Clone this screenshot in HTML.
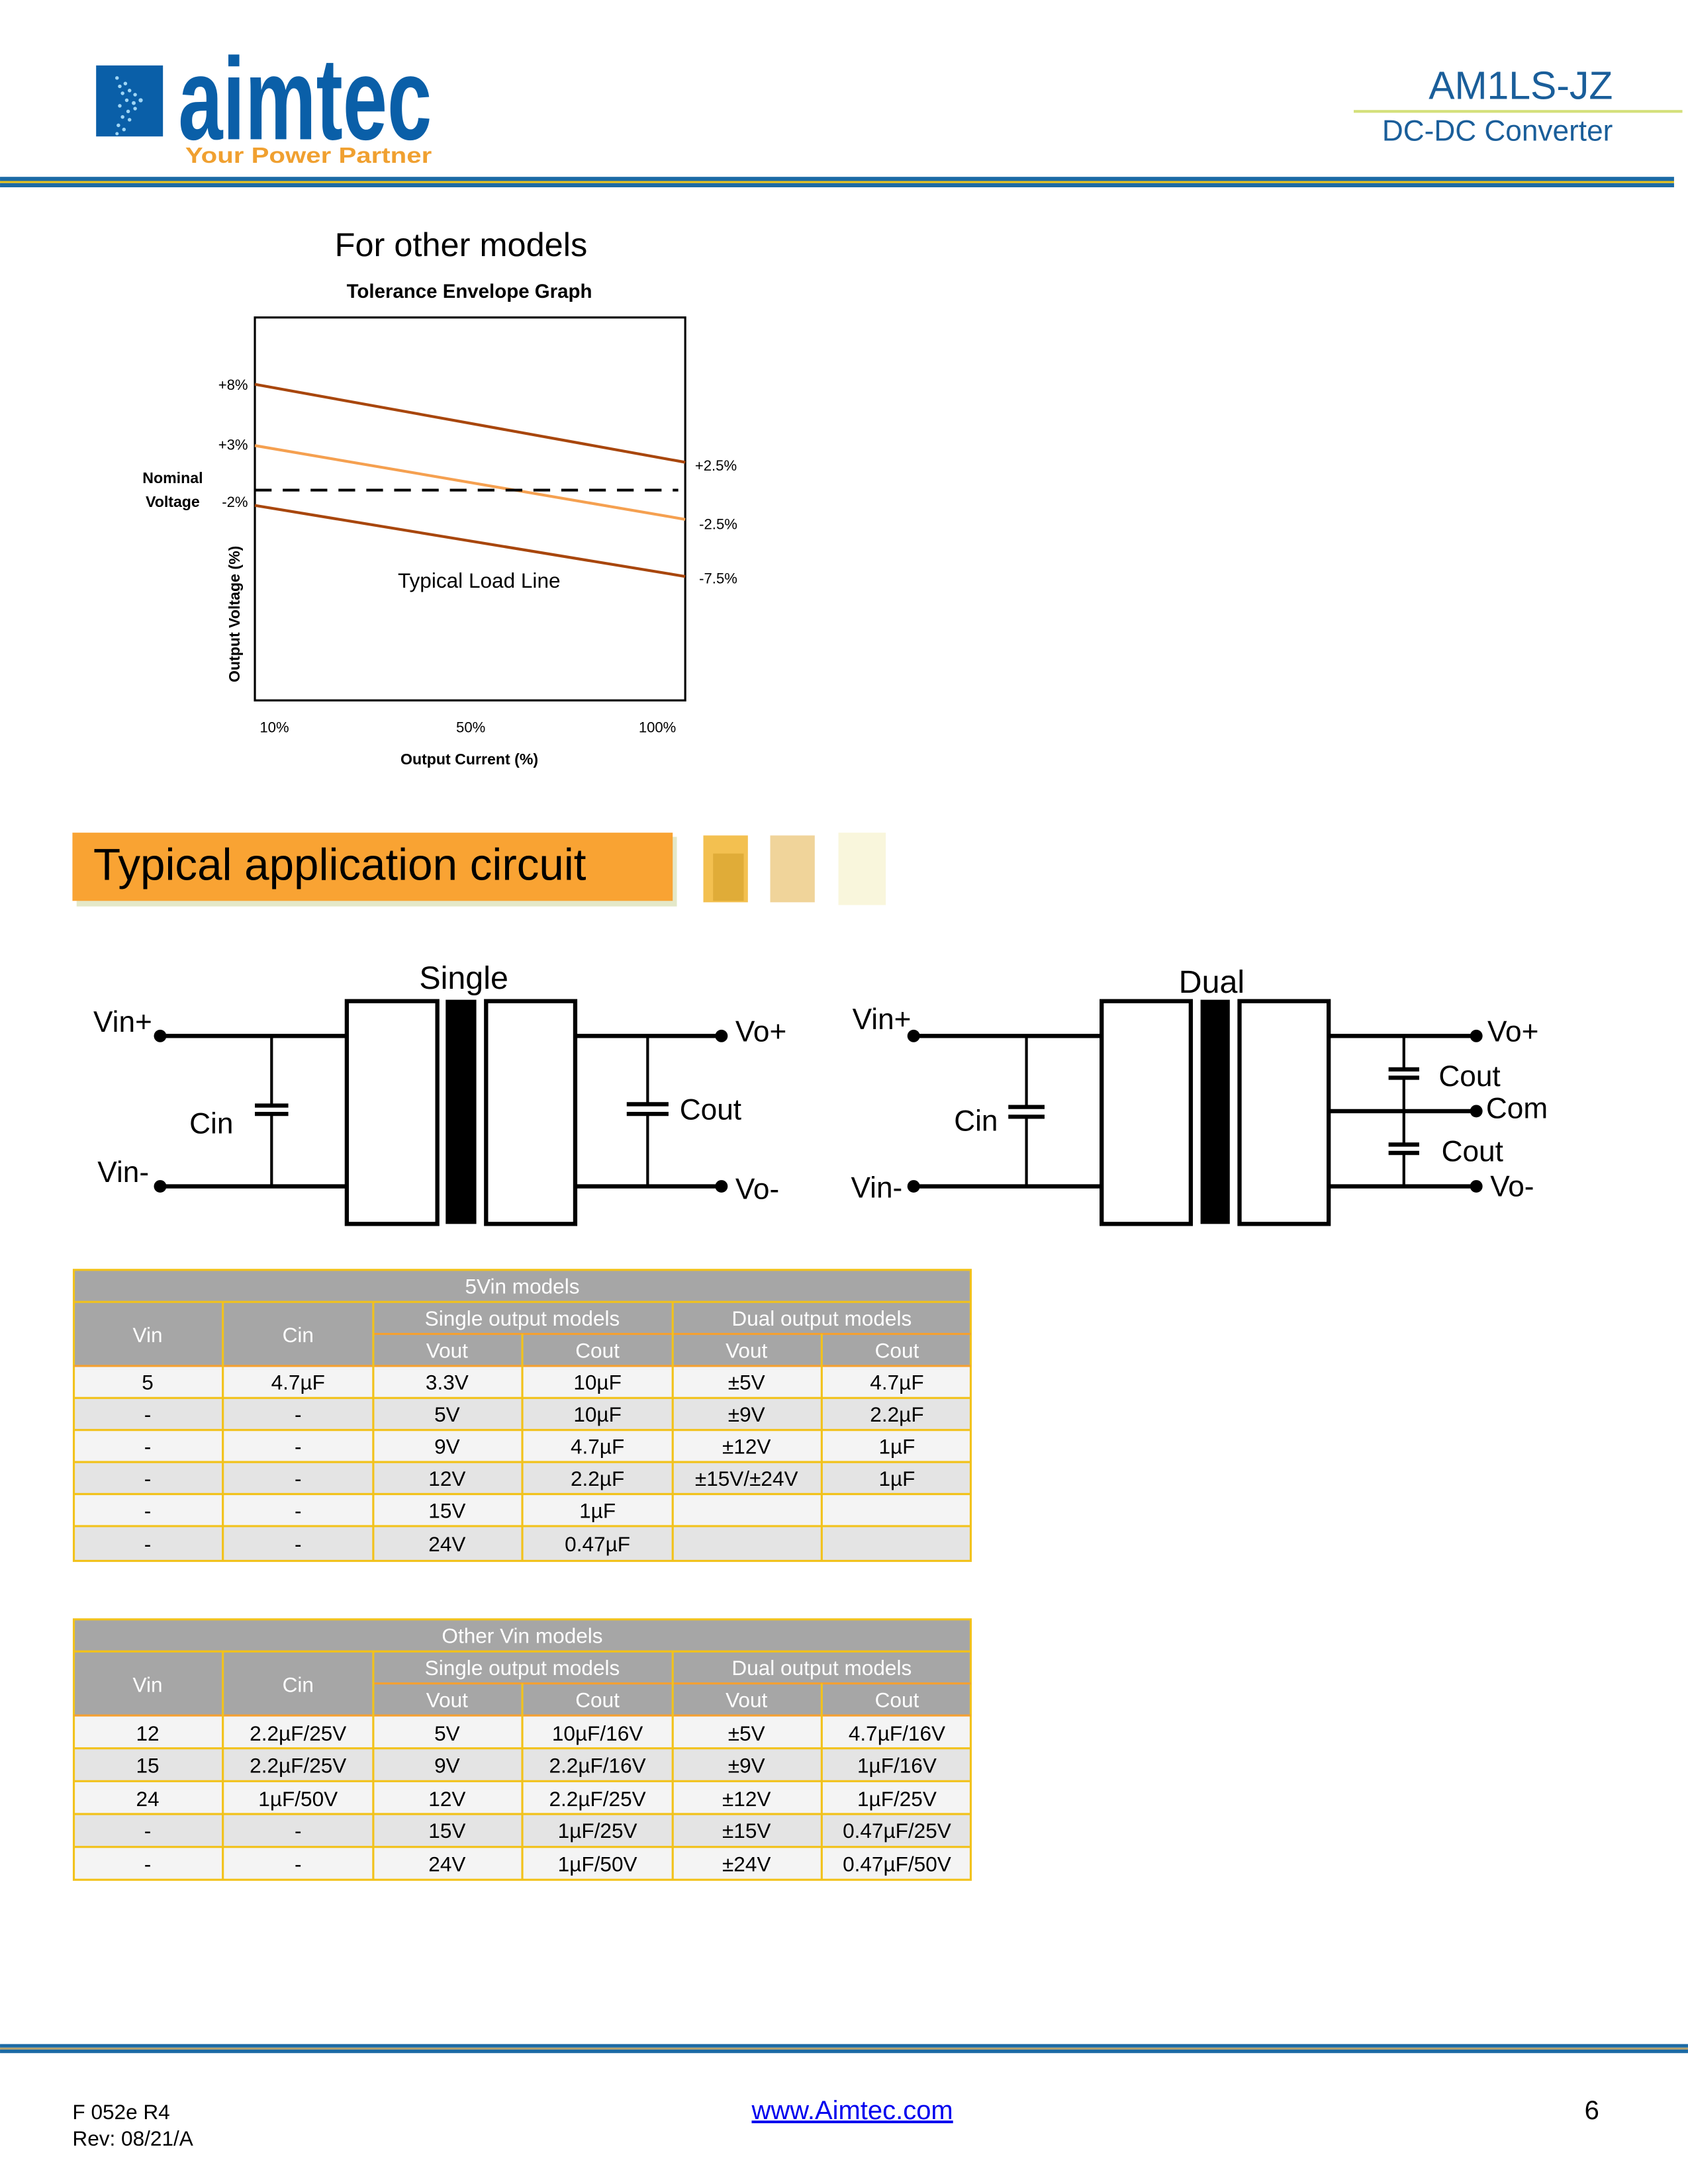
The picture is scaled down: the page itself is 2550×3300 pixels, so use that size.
<!DOCTYPE html>
<html><head><meta charset="utf-8"><style>html,body{margin:0;padding:0;background:#fff}svg{display:block}</style></head>
<body>
<svg width="2550" height="3300" viewBox="0 0 1212 1568.5" xmlns="http://www.w3.org/2000/svg" font-family="Liberation Sans, sans-serif">
<!-- Header -->
<rect x="69" y="47" width="48" height="51" fill="#0a5fa8"/>
<g fill="#9fd6f5">
<circle cx="84" cy="56" r="1.3"/><circle cx="86" cy="62" r="1.3"/><circle cx="90" cy="60" r="1.3"/><circle cx="88" cy="67" r="1.3"/><circle cx="93" cy="65" r="1.3"/><circle cx="97" cy="68" r="1.3"/><circle cx="101" cy="72" r="1.5"/><circle cx="96" cy="74" r="1.4"/><circle cx="91" cy="72" r="1.3"/><circle cx="86" cy="76" r="1.3"/><circle cx="92" cy="80" r="1.3"/><circle cx="97" cy="78" r="1.3"/><circle cx="88" cy="84" r="1.3"/><circle cx="93" cy="86" r="1.3"/><circle cx="85" cy="90" r="1.3"/><circle cx="89" cy="93" r="1.3"/><circle cx="84" cy="96" r="1.2"/>
</g>
<text x="128" y="100" font-size="84" font-weight="bold" fill="#0a5fa8" textLength="182" lengthAdjust="spacingAndGlyphs">aimtec</text>
<text x="133" y="117" font-size="16" font-weight="bold" fill="#f0a030" textLength="177" lengthAdjust="spacingAndGlyphs">Your Power Partner</text>
<text x="1158" y="71" font-size="28" fill="#1a5e9a" text-anchor="end">AM1LS-JZ</text>
<rect x="972" y="79" width="236" height="2" fill="#d4e07a"/>
<text x="1158" y="101" font-size="21" fill="#1a5e9a" text-anchor="end">DC-DC Converter</text>
<rect x="0" y="127" width="1202" height="3" fill="#1b6aa5"/>
<rect x="0" y="130" width="1202" height="1.5" fill="#e8c21a"/>
<rect x="0" y="131.5" width="1202" height="3" fill="#1b6aa5"/>

<!-- Graph -->
<text x="331" y="184" font-size="24" text-anchor="middle">For other models</text>
<text x="337" y="214" font-size="14" font-weight="bold" text-anchor="middle">Tolerance Envelope Graph</text>
<rect x="183" y="228" width="309" height="275" fill="none" stroke="#000" stroke-width="1.5"/>
<line x1="183" y1="276" x2="492" y2="332" stroke="#a8460c" stroke-width="2"/>
<line x1="183" y1="320" x2="492" y2="373" stroke="#f5a050" stroke-width="2"/>
<line x1="183" y1="363" x2="492" y2="414" stroke="#a8460c" stroke-width="2"/>
<line x1="183" y1="352" x2="487" y2="352" stroke="#000" stroke-width="2" stroke-dasharray="12,8"/>
<g font-size="10.5">
<text x="178" y="280" text-anchor="end">+8%</text>
<text x="178" y="323" text-anchor="end">+3%</text>
<text x="178" y="364" text-anchor="end">-2%</text>
<text x="499" y="338">+2.5%</text>
<text x="502" y="380">-2.5%</text>
<text x="502" y="419">-7.5%</text>
</g>
<text x="124" y="347" font-size="11" font-weight="bold" text-anchor="middle">Nominal</text>
<text x="124" y="364" font-size="11" font-weight="bold" text-anchor="middle">Voltage</text>
<text transform="translate(172,441) rotate(-90)" font-size="11" font-weight="bold" text-anchor="middle">Output Voltage (%)</text>
<text x="344" y="422" font-size="15" text-anchor="middle">Typical Load Line</text>
<g font-size="10.5">
<text x="197" y="526" text-anchor="middle">10%</text>
<text x="338" y="526" text-anchor="middle">50%</text>
<text x="472" y="526" text-anchor="middle">100%</text>
</g>
<text x="337" y="549" font-size="11" font-weight="bold" text-anchor="middle">Output Current (%)</text>

<!-- Banner -->
<rect x="55" y="601" width="431" height="50" fill="#e4e8c8"/>
<rect x="52" y="598" width="431" height="49" fill="#f9a333"/>
<text x="67" y="632" font-size="32">Typical application circuit</text>
<rect x="505" y="600" width="32" height="48" fill="#f3c050"/>
<rect x="512" y="613" width="22" height="34" fill="#e0ac38"/>
<rect x="553" y="600" width="32" height="48" fill="#f0d49a"/>
<rect x="602" y="598" width="34" height="52" fill="#f9f6dc"/>

<!-- Single circuit -->
<g stroke="#000" fill="none">
<line x1="115" y1="744" x2="248" y2="744" stroke-width="3"/>
<line x1="115" y1="852" x2="248" y2="852" stroke-width="3"/>
<line x1="195" y1="744" x2="195" y2="794" stroke-width="2"/>
<line x1="195" y1="800" x2="195" y2="852" stroke-width="2"/>
<line x1="183" y1="794" x2="207" y2="794" stroke-width="3"/>
<line x1="183" y1="800" x2="207" y2="800" stroke-width="3"/>
<rect x="249" y="719" width="65" height="160" stroke-width="3"/>
<rect x="349" y="719" width="64" height="160" stroke-width="3"/>
<line x1="413" y1="744" x2="518" y2="744" stroke-width="3"/>
<line x1="413" y1="852" x2="518" y2="852" stroke-width="3"/>
<line x1="465" y1="744" x2="465" y2="793" stroke-width="2"/>
<line x1="465" y1="800" x2="465" y2="852" stroke-width="2"/>
<line x1="450" y1="793" x2="480" y2="793" stroke-width="3"/>
<line x1="450" y1="800" x2="480" y2="800" stroke-width="3"/>
</g>
<rect x="320" y="718" width="22" height="161" fill="#000"/>
<g fill="#000"><circle cx="115" cy="744" r="4.5"/><circle cx="115" cy="852" r="4.5"/><circle cx="518" cy="744" r="4.5"/><circle cx="518" cy="852" r="4.5"/></g>
<g font-size="21">
<text x="333" y="710" text-anchor="middle" font-size="23">Single</text>
<text x="67" y="741">Vin+</text>
<text x="70" y="849">Vin-</text>
<text x="136" y="814">Cin</text>
<text x="488" y="804">Cout</text>
<text x="528" y="748">Vo+</text>
<text x="528" y="861">Vo-</text>
</g>

<!-- Dual circuit -->
<g stroke="#000" fill="none">
<line x1="656" y1="744" x2="790" y2="744" stroke-width="3"/>
<line x1="656" y1="852" x2="790" y2="852" stroke-width="3"/>
<line x1="737" y1="744" x2="737" y2="795" stroke-width="2"/>
<line x1="737" y1="802" x2="737" y2="852" stroke-width="2"/>
<line x1="724" y1="795" x2="750" y2="795" stroke-width="3"/>
<line x1="724" y1="802" x2="750" y2="802" stroke-width="3"/>
<rect x="791" y="719" width="64" height="160" stroke-width="3"/>
<rect x="890" y="719" width="64" height="160" stroke-width="3"/>
<line x1="954" y1="744" x2="1060" y2="744" stroke-width="3"/>
<line x1="954" y1="798" x2="1060" y2="798" stroke-width="3"/>
<line x1="954" y1="852" x2="1060" y2="852" stroke-width="3"/>
<line x1="1008" y1="744" x2="1008" y2="768" stroke-width="2"/>
<line x1="1008" y1="774" x2="1008" y2="822" stroke-width="2"/>
<line x1="1008" y1="828" x2="1008" y2="852" stroke-width="2"/>
<line x1="997" y1="768" x2="1019" y2="768" stroke-width="3"/>
<line x1="997" y1="774" x2="1019" y2="774" stroke-width="3"/>
<line x1="997" y1="822" x2="1019" y2="822" stroke-width="3"/>
<line x1="997" y1="828" x2="1019" y2="828" stroke-width="3"/>
</g>
<rect x="862" y="718" width="21" height="161" fill="#000"/>
<g fill="#000"><circle cx="656" cy="744" r="4.5"/><circle cx="656" cy="852" r="4.5"/><circle cx="1060" cy="744" r="4.5"/><circle cx="1060" cy="798" r="4.5"/><circle cx="1060" cy="852" r="4.5"/></g>
<g font-size="21">
<text x="870" y="713" text-anchor="middle" font-size="23">Dual</text>
<text x="612" y="739">Vin+</text>
<text x="611" y="860">Vin-</text>
<text x="685" y="812">Cin</text>
<text x="1033" y="780">Cout</text>
<text x="1035" y="834">Cout</text>
<text x="1067" y="803">Com</text>
<text x="1068" y="748">Vo+</text>
<text x="1070" y="859">Vo-</text>
</g>

<!-- Table 1 -->
<g font-size="15">
<rect x="53" y="912" width="644" height="69" fill="#a6a6a6"/>
<rect x="53" y="981" width="644" height="23" fill="#f4f4f4"/>
<rect x="53" y="1004" width="644" height="23" fill="#e4e4e4"/>
<rect x="53" y="1027" width="644" height="23" fill="#f4f4f4"/>
<rect x="53" y="1050" width="644" height="23" fill="#e4e4e4"/>
<rect x="53" y="1073" width="644" height="23" fill="#f4f4f4"/>
<rect x="53" y="1096" width="644" height="25" fill="#e4e4e4"/>
<g stroke="#f2c21b" stroke-width="1.5" fill="none">
<rect x="53" y="912" width="644" height="209"/>
<line x1="53" y1="935" x2="697" y2="935"/>
<line x1="268" y1="958" x2="697" y2="958" stroke="#f5a030"/>
<line x1="53" y1="981" x2="697" y2="981" stroke="#f5a030"/>
<line x1="53" y1="1004" x2="697" y2="1004"/><line x1="53" y1="1027" x2="697" y2="1027"/><line x1="53" y1="1050" x2="697" y2="1050"/><line x1="53" y1="1073" x2="697" y2="1073"/><line x1="53" y1="1096" x2="697" y2="1096"/>
<line x1="160" y1="935" x2="160" y2="1121"/><line x1="268" y1="935" x2="268" y2="1121"/><line x1="483" y1="935" x2="483" y2="1121"/>
<line x1="375" y1="958" x2="375" y2="1121"/><line x1="590" y1="958" x2="590" y2="1121"/>
</g>
<g fill="#fff" text-anchor="middle">
<text x="375" y="929">5Vin models</text>
<text x="106" y="964">Vin</text><text x="214" y="964">Cin</text>
<text x="375" y="952">Single output models</text><text x="590" y="952">Dual output models</text>
<text x="321" y="975">Vout</text><text x="429" y="975">Cout</text><text x="536" y="975">Vout</text><text x="644" y="975">Cout</text>
</g>
<g text-anchor="middle">
<text x="106" y="998">5</text><text x="214" y="998">4.7µF</text><text x="321" y="998">3.3V</text><text x="429" y="998">10µF</text><text x="536" y="998">±5V</text><text x="644" y="998">4.7µF</text>
<text x="106" y="1021">-</text><text x="214" y="1021">-</text><text x="321" y="1021">5V</text><text x="429" y="1021">10µF</text><text x="536" y="1021">±9V</text><text x="644" y="1021">2.2µF</text>
<text x="106" y="1044">-</text><text x="214" y="1044">-</text><text x="321" y="1044">9V</text><text x="429" y="1044">4.7µF</text><text x="536" y="1044">±12V</text><text x="644" y="1044">1µF</text>
<text x="106" y="1067">-</text><text x="214" y="1067">-</text><text x="321" y="1067">12V</text><text x="429" y="1067">2.2µF</text><text x="536" y="1067">±15V/±24V</text><text x="644" y="1067">1µF</text>
<text x="106" y="1090">-</text><text x="214" y="1090">-</text><text x="321" y="1090">15V</text><text x="429" y="1090">1µF</text>
<text x="106" y="1114">-</text><text x="214" y="1114">-</text><text x="321" y="1114">24V</text><text x="429" y="1114">0.47µF</text>
</g>
</g>

<!-- Table 2 -->
<g font-size="15">
<rect x="53" y="1163" width="644" height="69" fill="#a6a6a6"/>
<rect x="53" y="1232" width="644" height="23.6" fill="#f4f4f4"/>
<rect x="53" y="1255.6" width="644" height="23.6" fill="#e4e4e4"/>
<rect x="53" y="1279.2" width="644" height="23.6" fill="#f4f4f4"/>
<rect x="53" y="1302.8" width="644" height="23.6" fill="#e4e4e4"/>
<rect x="53" y="1326.4" width="644" height="23.6" fill="#f4f4f4"/>
<g stroke="#f2c21b" stroke-width="1.5" fill="none">
<rect x="53" y="1163" width="644" height="187"/>
<line x1="53" y1="1186" x2="697" y2="1186"/>
<line x1="268" y1="1209" x2="697" y2="1209" stroke="#f5a030"/>
<line x1="53" y1="1232" x2="697" y2="1232" stroke="#f5a030"/>
<line x1="53" y1="1255.6" x2="697" y2="1255.6"/><line x1="53" y1="1279.2" x2="697" y2="1279.2"/><line x1="53" y1="1302.8" x2="697" y2="1302.8"/><line x1="53" y1="1326.4" x2="697" y2="1326.4"/>
<line x1="160" y1="1186" x2="160" y2="1350"/><line x1="268" y1="1186" x2="268" y2="1350"/><line x1="483" y1="1186" x2="483" y2="1350"/>
<line x1="375" y1="1209" x2="375" y2="1350"/><line x1="590" y1="1209" x2="590" y2="1350"/>
</g>
<g fill="#fff" text-anchor="middle">
<text x="375" y="1180">Other Vin models</text>
<text x="106" y="1215">Vin</text><text x="214" y="1215">Cin</text>
<text x="375" y="1203">Single output models</text><text x="590" y="1203">Dual output models</text>
<text x="321" y="1226">Vout</text><text x="429" y="1226">Cout</text><text x="536" y="1226">Vout</text><text x="644" y="1226">Cout</text>
</g>
<g text-anchor="middle">
<text x="106" y="1250">12</text><text x="214" y="1250">2.2µF/25V</text><text x="321" y="1250">5V</text><text x="429" y="1250">10µF/16V</text><text x="536" y="1250">±5V</text><text x="644" y="1250">4.7µF/16V</text>
<text x="106" y="1273">15</text><text x="214" y="1273">2.2µF/25V</text><text x="321" y="1273">9V</text><text x="429" y="1273">2.2µF/16V</text><text x="536" y="1273">±9V</text><text x="644" y="1273">1µF/16V</text>
<text x="106" y="1297">24</text><text x="214" y="1297">1µF/50V</text><text x="321" y="1297">12V</text><text x="429" y="1297">2.2µF/25V</text><text x="536" y="1297">±12V</text><text x="644" y="1297">1µF/25V</text>
<text x="106" y="1320">-</text><text x="214" y="1320">-</text><text x="321" y="1320">15V</text><text x="429" y="1320">1µF/25V</text><text x="536" y="1320">±15V</text><text x="644" y="1320">0.47µF/25V</text>
<text x="106" y="1344">-</text><text x="214" y="1344">-</text><text x="321" y="1344">24V</text><text x="429" y="1344">1µF/50V</text><text x="536" y="1344">±24V</text><text x="644" y="1344">0.47µF/50V</text>
</g>
</g>

<!-- Footer -->
<rect x="0" y="1468" width="1212" height="2.5" fill="#1b6aa5"/>
<rect x="0" y="1470.5" width="1212" height="1.5" fill="#b0a070"/>
<rect x="0" y="1472" width="1212" height="2.5" fill="#1b6aa5"/>
<text x="52" y="1522" font-size="15">F 052e R4</text>
<text x="52" y="1541" font-size="15">Rev: 08/21/A</text>
<text x="612" y="1522" font-size="19" fill="#0000ee" text-anchor="middle" text-decoration="underline">www.Aimtec.com</text>
<text x="1143" y="1522" font-size="19" text-anchor="middle">6</text>
</svg>
</body></html>
